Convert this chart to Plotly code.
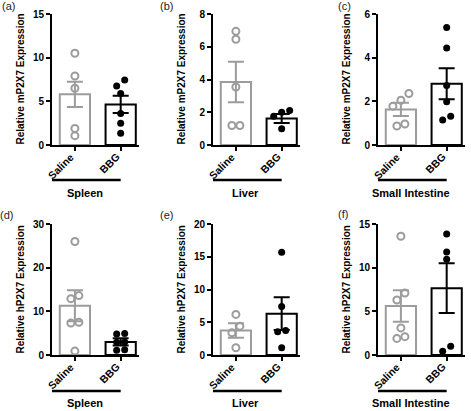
import plotly.graph_objects as go

groups = ["Saline", "BBG"]
tissues = ["Spleen", "Liver", "Small Intestine", "Spleen", "Liver", "Small Intestine"]
panel_tags = ["(a)", "(b)", "(c)", "(d)", "(e)", "(f)"]
y_titles = ["Relative mP2X7 Expression"] * 3 + ["Relative hP2X7 Expression"] * 3
y_max = [15, 8, 6, 30, 20, 15]
y_dtick = [5, 2, 2, 10, 5, 5]

saline_points = [
    [10.5, 7.9, 6.5, 1.9, 1.07],
    [6.46, 6.94, 3.54, 1.19, 1.19],
    [2.36, 2.05, 1.78, 0.87, 0.96],
    [26.0, 13.6, 12.9, 7.5, 7.3, 0.9],
    [6.2, 4.4, 3.4, 1.1],
    [13.6, 7.1, 6.3, 3.1, 2.1, 1.9],
]
bbg_points = [
    [7.45, 6.76, 5.9, 3.6, 2.5, 1.34],
    [2.1, 2.0, 1.75, 1.0],
    [5.38, 4.44, 2.72, 1.98, 1.32, 1.14],
    [4.9, 4.8, 3.0, 2.9, 1.2, 1.1],
    [15.7, 7.4, 3.75, 3.55, 1.1],
    [13.85, 11.8, 10.95, 0.99, 0.42],
]
saline_mean = [5.8, 3.85, 1.63, 11.3, 3.75, 5.6]
saline_sem = [1.45, 1.24, 0.3, 3.55, 1.1, 1.8]
bbg_mean = [4.65, 1.62, 2.81, 3.0, 6.3, 7.65]
bbg_sem = [1.0, 0.28, 0.71, 0.85, 2.5, 2.85]

# ---------------- layout geometry (pixels) ----------------
W, H = 471, 411
left_px = [52, 213, 378]
axis_w_px = 87
row_top = [14, 224]
row_bot = [145, 355]
xr = [-0.5, 1.4]
px_per_x = axis_w_px / (xr[1] - xr[0])
plot_h = 131
underline_y = [180, 391]
label_y = [193, 403]
tag_pos = [(8, 6), (166, 6), (344, 6), (6, 215), (166, 215), (343, 214)]

GRAY = "#9c9c9c"
BLACK = "#000000"
FONT = "Liberation Sans, Arial, sans-serif"


def swarm(vals, ymax, min_px=7, step_px=8):
    idx = sorted(range(len(vals)), key=lambda i: vals[i])
    offs = [0.0] * len(vals)
    clusters, cur = [], [idx[0]]
    for a, b in zip(idx, idx[1:]):
        if (vals[b] - vals[a]) * plot_h / ymax < min_px:
            cur.append(b)
        else:
            clusters.append(cur)
            cur = [b]
    clusters.append(cur)
    for c in clusters:
        n = len(c)
        for k, i in enumerate(c):
            offs[i] = (k - (n - 1) / 2) * step_px / px_per_x
    return offs


fig = go.Figure()
layout = dict(
    width=W, height=H, margin=dict(l=0, r=0, t=0, b=0, autoexpand=False),
    paper_bgcolor="white", plot_bgcolor="white", showlegend=False,
    font=dict(family=FONT, color="black"),
    annotations=[], shapes=[],
)

for p in range(6):
    row, col = divmod(p, 3)
    n = p + 1
    xa = "x" if n == 1 else f"x{n}"
    ya = "y" if n == 1 else f"y{n}"
    xkey = "xaxis" if n == 1 else f"xaxis{n}"
    ykey = "yaxis" if n == 1 else f"yaxis{n}"
    x0 = left_px[col] / W
    x1 = (left_px[col] + axis_w_px) / W
    y0 = 1 - row_bot[row] / H
    y1 = 1 - row_top[row] / H

    layout[xkey] = dict(
        domain=[x0, x1], anchor=ya, range=xr, tickmode="array",
        tickvals=[0, 1], showticklabels=False, automargin=False,
        showline=True, linewidth=2, linecolor="black", ticks="outside",
        ticklen=4, tickwidth=1.5, tickcolor="black",
        showgrid=False, zeroline=False, fixedrange=True,
    )
    layout[ykey] = dict(
        domain=[y0, y1], anchor=xa, range=[0, y_max[p]], tick0=0,
        dtick=y_dtick[p], tickfont=dict(size=10, weight="bold", family=FONT),
        showline=True, linewidth=2, linecolor="black", ticks="outside",
        ticklen=4, tickwidth=1.5, tickcolor="black", automargin=False,
        showgrid=False, zeroline=False, fixedrange=True,
    )

    for gi, (pts, mean, sem, color) in enumerate([
        (saline_points[p], saline_mean[p], saline_sem[p], GRAY),
        (bbg_points[p], bbg_mean[p], bbg_sem[p], BLACK),
    ]):
        fig.add_trace(go.Bar(
            x=[gi], y=[mean], width=0.66, xaxis=xa, yaxis=ya,
            marker=dict(color="white", line=dict(color=color, width=2)),
            error_y=dict(type="data", array=[sem], color=color,
                         thickness=2, width=8),
        ))
    for gi, (pts, color) in enumerate([(saline_points[p], GRAY),
                                        (bbg_points[p], BLACK)]):
        offs = swarm(pts, y_max[p])
        if gi == 0:
            marker = dict(symbol="circle-open", size=7, color=color,
                          line=dict(color=color, width=2))
        else:
            marker = dict(symbol="circle", size=7, color=color,
                          line=dict(width=0))
        fig.add_trace(go.Scatter(
            x=[gi + o for o in offs], y=pts, mode="markers",
            xaxis=xa, yaxis=ya, marker=marker, cliponaxis=False,
        ))

    # rotated category labels
    for gi, g in enumerate(groups):
        layout["annotations"].append(dict(
            text=f"<b>{g}</b>", textangle=-45, x=gi + 4 / px_per_x, xref=xa,
            y=1 - (row_bot[row] + 3) / H, yref="paper",
            xanchor="right", yanchor="top", showarrow=False,
            font=dict(size=10.5, family=FONT, color="black"),
        ))
    # y title
    layout["annotations"].append(dict(
        text=f"<b>{y_titles[p]}</b>", textangle=-90,
        x=(left_px[col] - 32) / W, y=1 - (row_top[row] + row_bot[row]) / 2 / H,
        xref="paper", yref="paper", xanchor="center", yanchor="middle",
        showarrow=False, font=dict(size=10, family=FONT, color="black"),
    ))
    # group underline
    layout["shapes"].append(dict(
        type="line", xref=xa, yref="paper", x0=-0.57, x1=1.0,
        y0=1 - underline_y[row] / H, y1=1 - underline_y[row] / H,
        line=dict(color="black", width=2.5),
    ))
    # group label
    layout["annotations"].append(dict(
        text=f"<b>{tissues[p]}</b>", x=0.22, xref=xa,
        y=1 - label_y[row] / H, yref="paper", xanchor="center",
        yanchor="middle", showarrow=False,
        font=dict(size=11, family=FONT, color="black"),
    ))
    # panel tag
    tx, ty = tag_pos[p]
    layout["annotations"].append(dict(
        text=panel_tags[p], x=tx / W, y=1 - ty / H, xref="paper",
        yref="paper", xanchor="center", yanchor="middle", showarrow=False,
        font=dict(size=11, family=FONT, color="#222222"),
    ))

fig.update_layout(**layout)
fig.write_html(
    "out.html",
    config={"displayModeBar": False},
    post_script="document.body.style.margin='0';document.body.style.overflow='hidden';",
)
